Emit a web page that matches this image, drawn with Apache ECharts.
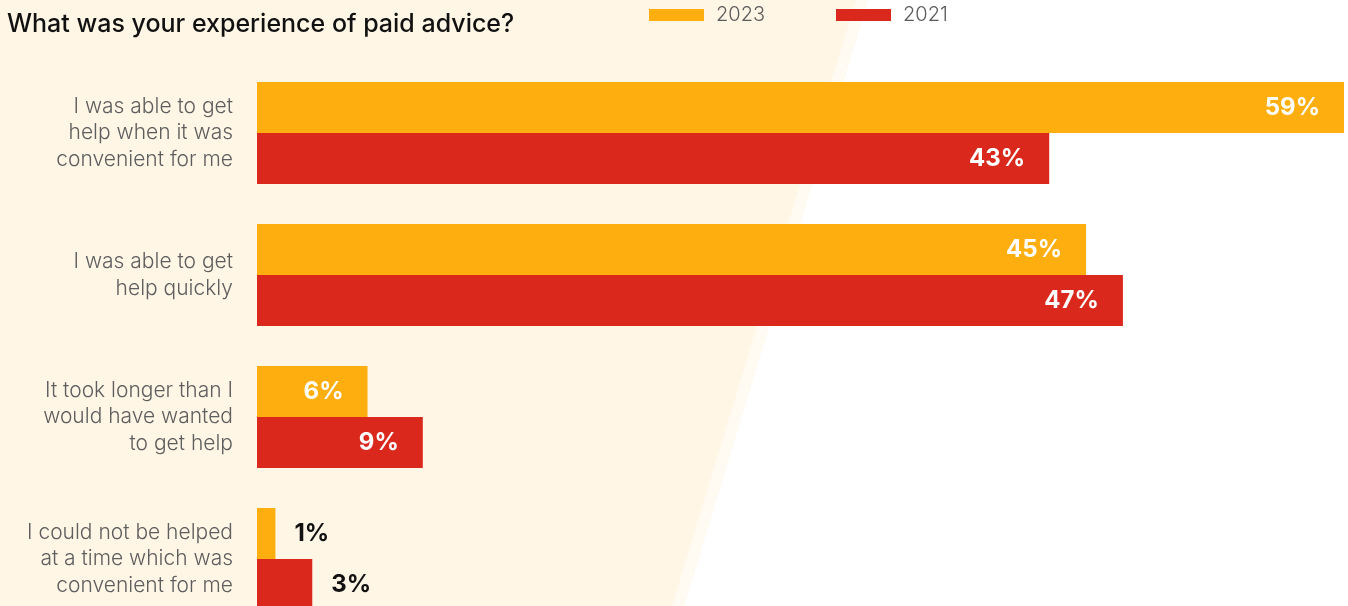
<!DOCTYPE html>
<html>
<head>
<meta charset="utf-8">
<script src="https://cdn.jsdelivr.net/npm/echarts@6/dist/echarts.min.js"></script>
<style>
  html, body { margin: 0; padding: 0; background: #ffffff; }
  #chart { width: 1348px; height: 606px; }
</style>
</head>
<body>
<div id="chart"></div>
<script>
// Survey answers, top to bottom
const categories = [
  'I was able to get\nhelp when it was\nconvenient for me',
  'I was able to get\nhelp quickly',
  'It took longer than I\nwould have wanted\nto get help',
  'I could not be helped\nat a time which was\nconvenient for me'
];
const seriesNames = ['2023', '2021'];
const values2023 = [59, 45, 6, 1];
const values2021 = [43, 47, 9, 3];

const FONT = 'Inter, "Open Sans", sans-serif';
const colors = { '2023': '#FFAE10', '2021': '#DA291C' };

// Wide bars carry their value inside in white; short ones get it outside in black
function withLabels(values) {
  return values.map(v => ({
    value: v,
    label: v >= 5
      ? { position: 'insideRight', distance: 24, color: '#ffffff' }
      : { position: 'right', distance: 19, color: '#111111' }
  }));
}

const chart = echarts.init(document.getElementById('chart'), null, { renderer: 'canvas' });

const legendBase = {
  top: 5,
  padding: 0,
  icon: 'rect',
  itemWidth: 55,
  itemHeight: 12,
  selectedMode: false,
  textStyle: { color: '#5a5a5a', fontSize: 20, fontFamily: FONT, fontWeight: 300, padding: [0, 0, 0, 7] }
};

chart.setOption({
  backgroundColor: '#ffffff',
  animation: false,
  title: {
    text: 'What was your experience of paid advice?',
    left: 7,
    top: 12,
    padding: 0,
    textStyle: { color: '#111111', fontSize: 25, fontWeight: 500, fontFamily: FONT }
  },
  legend: [
    Object.assign({}, legendBase, { left: 649, data: [seriesNames[0]] }),
    Object.assign({}, legendBase, { left: 836, data: [seriesNames[1]] })
  ],
  graphic: [
    {
      type: 'polygon',
      z: -10,
      silent: true,
      shape: { points: [[0, 0], [868, 0], [684, 606], [0, 606]] },
      style: { fill: '#FFF6E6' }
    },
    {
      type: 'polygon',
      z: -9,
      silent: true,
      shape: { points: [[856, 0], [868, 0], [684, 606], [672, 606]] },
      style: { fill: '#FFFAF2' }
    }
  ],
  grid: {
    left: 257,
    top: 62,
    width: 1087,
    height: 568,
    containLabel: false,
    outerBoundsMode: 'none'
  },
  xAxis: {
    type: 'value',
    min: 0,
    max: 59,
    show: false
  },
  yAxis: {
    type: 'category',
    inverse: true,
    data: categories,
    axisLine: { show: false },
    axisTick: { show: false },
    splitLine: { show: false },
    axisLabel: {
      margin: 24,
      color: '#5e5e5e',
      fontSize: 21,
      lineHeight: 26.5,
      fontWeight: 300,
      fontFamily: FONT,
      align: 'right'
    }
  },
  series: [
    {
      name: seriesNames[0],
      type: 'bar',
      barWidth: 51,
      barGap: '0%',
      itemStyle: { color: colors['2023'] },
      label: { show: true, fontSize: 24, fontWeight: 700, fontFamily: FONT, formatter: '{c}%' },
      data: withLabels(values2023)
    },
    {
      name: seriesNames[1],
      type: 'bar',
      barWidth: 51,
      barGap: '0%',
      itemStyle: { color: colors['2021'] },
      label: { show: true, fontSize: 24, fontWeight: 700, fontFamily: FONT, formatter: '{c}%' },
      data: withLabels(values2021)
    }
  ]
});
</script>
</body>
</html>
